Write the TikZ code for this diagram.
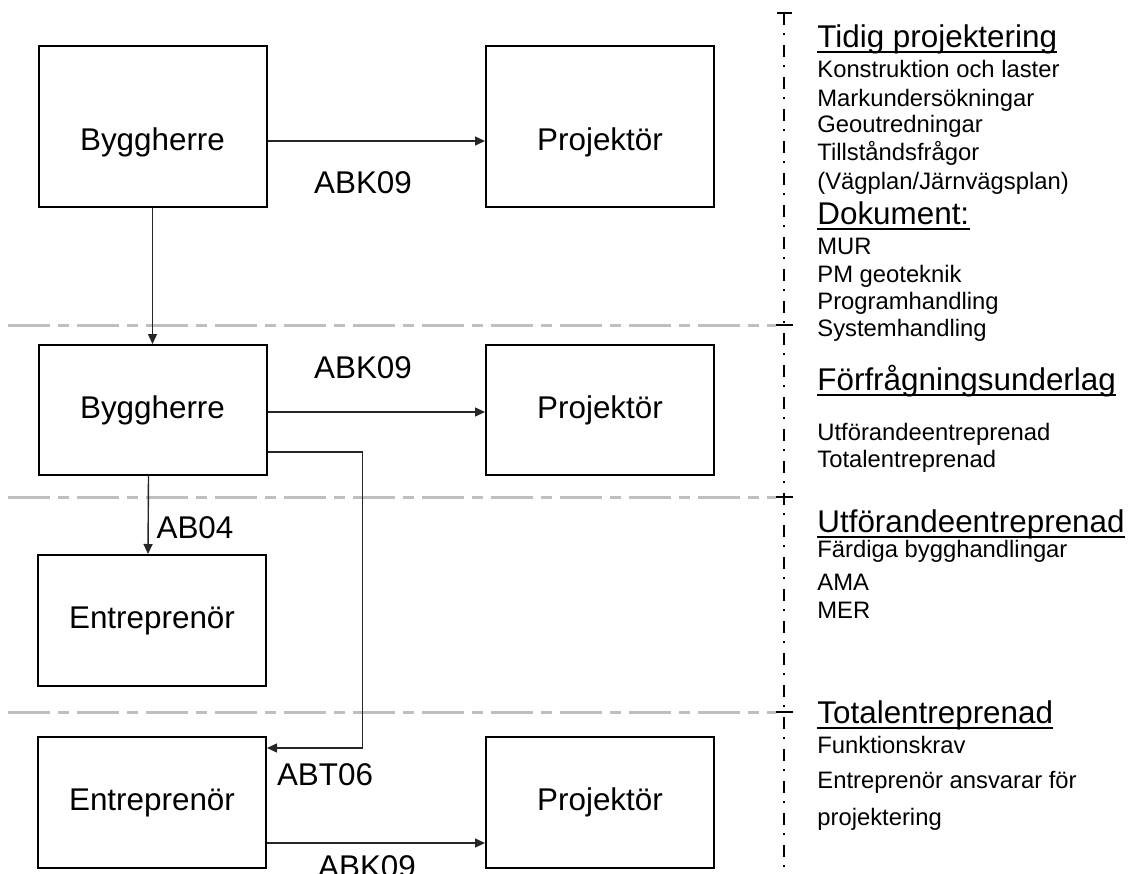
\documentclass[tikz,border=0pt]{standalone}
\usepackage{fontspec}
\setmainfont{Liberation Sans}
\usetikzlibrary{arrows.meta}
\begin{document}
\begin{tikzpicture}[
    x=0.5pt, y=-0.5pt,
    box/.style={draw, line width=1pt, minimum width=114pt, font=\fontsize{15.7}{18}\selectfont},
    label text/.style={font=\fontsize{15.7}{18}\selectfont},
    item/.style={anchor=base west, inner sep=0pt, font=\fontsize{11.9}{14}\selectfont},
    heading/.style={anchor=base west, inner sep=0pt, font=\fontsize{15.7}{18}\selectfont},
    link/.style={draw=black!85, line width=0.7pt, -{Triangle[length=5pt,width=4.5pt]}},
    phase line/.style={draw=black!25, line width=1.5pt, dash pattern=on 21pt off 4pt on 5.5pt off 4pt},
    time line/.style={draw, line width=0.8pt, dash pattern=on 6pt off 4pt on 1pt off 5pt},
    tick/.style={draw, line width=1pt},
    uline/.style={draw, line width=1pt},
    ]
\useasboundingbox (0,0) rectangle (1132,874);
\draw[phase line] (8,325) -- (776,325);
\draw[phase line] (8,497) -- (776,497);
\draw[phase line] (8,712) -- (776,712);
\draw[time line] (784,13) -- (784,874);
\draw[tick] (777,13) -- (792,13);
\draw[tick] (776,325) -- (793,325);
\draw[tick] (776,497) -- (793,497);
\draw[tick] (776,712) -- (793,712);
\node[box, minimum height=80.5pt, text height=27pt] (bygg1) at (152.5,126.5) {Byggherre};
\node[box, minimum height=80.5pt, text height=27pt] (proj1) at (600,126.5) {Projektör};
\node[box, minimum height=65pt] (bygg2) at (152.5,410) {Byggherre};
\node[box, minimum height=65pt] (proj2) at (600,410) {Projektör};
\node[box, minimum height=65.5pt] (entr1) at (152,620.5) {Entreprenör};
\node[box, minimum height=65.5pt] (entr2) at (152,802.5) {Entreprenör};
\node[box, minimum height=65.5pt] (proj3) at (600,802.5) {Projektör};
\draw[link] ([yshift=-7.25pt]bygg1.east) -- ([yshift=-7.25pt]proj1.west);
\draw[link] (bygg1.south) -- (bygg2.north);
\draw[link] ([yshift=-1pt]bygg2.east) -- ([yshift=-1pt]proj2.west);
\draw[link] ([xshift=-2pt]bygg2.south) -- ([xshift=-2pt]entr1.north);
\draw[link] ([yshift=-21pt]bygg2.east) -- ++(95,0) |- ([yshift=27.25pt]entr2.east);
\draw[link] ([yshift=-20.25pt]entr2.east) -- ([yshift=-20.25pt]proj3.west);
\node[label text] (abk1) at (363,183) {ABK09};
\node[label text] (abk2) at (363,368) {ABK09};
\node[label text] (ab04) at (195,528) {AB04};
\node[label text] (abt06) at (325,775) {ABT06};
\node[label text] (abk3) at (367,867) {ABK09};
\node[heading] (tidig) at (817,47) {Tidig projektering};
\node[item] at (817,77) {Konstruktion och laster};
\node[item] at (817,106) {Markundersökningar};
\node[item] at (817,132) {Geoutredningar};
\node[item] at (817,160) {Tillståndsfrågor};
\node[item] at (817,189) {(Vägplan/Järnvägsplan)};
\node[heading] (dok) at (817,224) {Dokument:};
\node[item] at (817,254) {MUR};
\node[item] at (817,282) {PM geoteknik};
\node[item] at (817,309) {Programhandling};
\node[item] at (817,336) {Systemhandling};
\node[heading] (ff) at (817,390) {Förfrågningsunderlag};
\node[item] at (817,440) {Utförandeentreprenad};
\node[item] at (817,467) {Totalentreprenad};
\node[heading] (utf) at (817,532) {Utförandeentreprenad};
\node[item] at (817,557) {Färdiga bygghandlingar};
\node[item] at (817,590) {AMA};
\node[item] at (817,618) {MER};
\node[heading] (tot) at (817,723) {Totalentreprenad};
\node[item] at (817,753) {Funktionskrav};
\node[item] at (817,788) {Entreprenör ansvarar för};
\node[item] at (817,825) {projektering};
\foreach \h in {tidig,dok,ff,utf,tot}
  \draw[uline] ([yshift=-2.5pt]\h.base west) -- ([yshift=-2.5pt]\h.base east);
\end{tikzpicture}
\end{document}
